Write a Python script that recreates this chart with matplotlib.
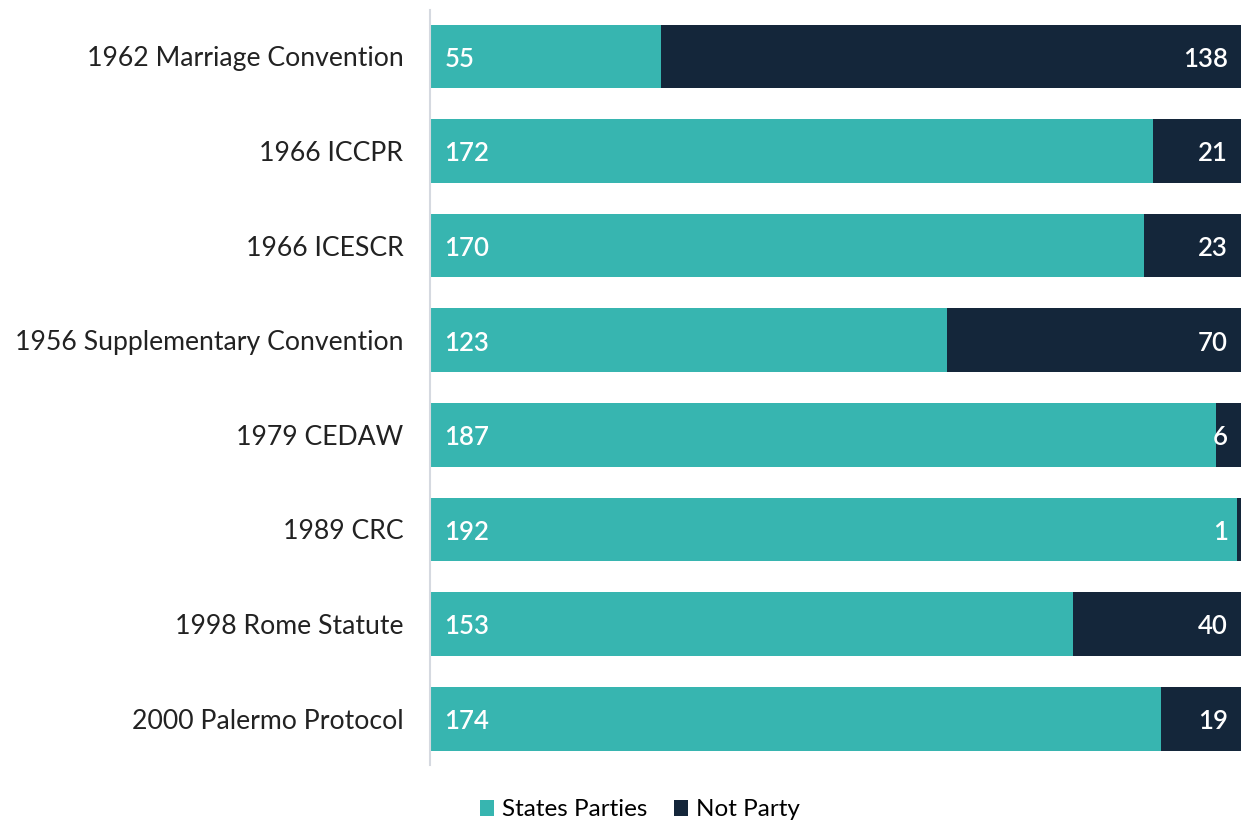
import numpy as np
import matplotlib.pyplot as plt

treaties = ['1962 Marriage Convention', '1966 ICCPR', '1966 ICESCR',
            '1956 Supplementary Convention', '1979 CEDAW', '1989 CRC',
            '1998 Rome Statute', '2000 Palermo Protocol']
parties = [55, 172, 170, 123, 187, 192, 153, 174]
not_party = [138, 21, 23, 70, 6, 1, 40, 19]

teal = '#37b5b0'
navy = '#14263a'

plt.rcParams['font.family'] = ['Lato', 'DejaVu Sans']

fig = plt.figure(figsize=(12.42, 8.21), dpi=100)
ax = fig.add_axes([0.346, 0.068, 0.653, 0.92])

y = np.arange(len(treaties))
total = np.array(parties) + np.array(not_party)
ax.barh(y, parties, height=0.67, color=teal, label='States Parties')
ax.barh(y, not_party, left=parties, height=0.67, color=navy, label='Not Party')

for i in range(len(treaties)):
    ax.text(3.5, y[i] + 0.03, str(parties[i]), color='white', fontsize=18.5,
            fontweight='semibold', va='center', ha='left')
    ax.text(total[i] - 3, y[i] + 0.03, str(not_party[i]), color='white',
            fontsize=18.5, fontweight='semibold', va='center', ha='right')

ax.set_xlim(0, 193)
ax.set_ylim(7.49, -0.49)
ax.set_yticks(y)
ax.set_yticklabels(treaties, fontsize=19.2, color='#222222')
ax.tick_params(axis='y', length=0, pad=19)
ax.set_xticks([])
for s in ['top', 'right', 'bottom']:
    ax.spines[s].set_visible(False)
ax.spines['left'].set_color('#d5d9e0')
ax.spines['left'].set_linewidth(1.5)

fig.legend(loc='lower center', bbox_to_anchor=(0.515, -0.026), ncol=2,
           frameon=False, fontsize=17.5, handlelength=0.6, handleheight=0.6,
           handletextpad=0.3, columnspacing=1.1)

fig.savefig('out.png', dpi=100)
